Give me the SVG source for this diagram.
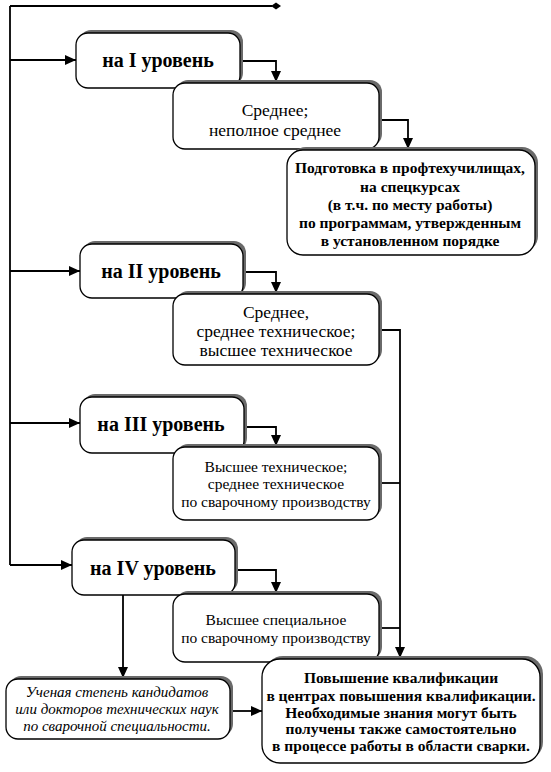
<svg xmlns="http://www.w3.org/2000/svg" width="551" height="772" viewBox="0 0 551 772">
<style>
.sh{fill:#6a6a6a;stroke:none}
.bx{fill:#fff;stroke:#000;stroke-width:1.3}
.ttl{font-size:20px;font-weight:bold}
.big{font-size:17.5px}
.mid{font-size:15.5px}
.bold{font-size:15.5px;font-weight:bold}
.it{font-size:15px;font-style:italic}
.c{fill:none;stroke:#000;stroke-width:1.8}
</style>
<defs>
<marker id="ah" markerUnits="userSpaceOnUse" markerWidth="12" markerHeight="10" refX="11" refY="5" orient="auto">
<path d="M0,0 L11,5 L0,10 Z" fill="#000"/>
</marker>
</defs>
<rect width="551" height="772" fill="#fff"/>
<g id="connectors">
<path class="c" d="M10,6 H272"/>
<polygon points="271,6 276,2.5 281,6 276,9.5" fill="#000"/>
<path class="c" d="M10,6 V565"/>
<path class="c" d="M10,60 H76" marker-end="url(#ah)"/>
<path class="c" d="M10,271 H80" marker-end="url(#ah)"/>
<path class="c" d="M10,423 H80" marker-end="url(#ah)"/>
<path class="c" d="M10,565 H72" marker-end="url(#ah)"/>
<path class="c" d="M243,61 H276 V82" marker-end="url(#ah)"/>
<path class="c" d="M246,272 H276 V293" marker-end="url(#ah)"/>
<path class="c" d="M247,427 H276 V446" marker-end="url(#ah)"/>
<path class="c" d="M238,570 H276 V593" marker-end="url(#ah)"/>
<path class="c" d="M382,120 H408 V149" marker-end="url(#ah)"/>
<path class="c" d="M382,330 H400 V658" marker-end="url(#ah)"/>
<path class="c" d="M382,483 H400"/>
<path class="c" d="M382,628 H400"/>
<path class="c" d="M123,595 V678" marker-end="url(#ah)"/>
<path class="c" d="M233,711 H262" marker-end="url(#ah)"/>
</g>
<g font-family="Liberation Serif, DejaVu Serif, serif" text-anchor="middle" fill="#000">
<g id="level1">
<rect class="sh" x="79" y="30" width="164" height="55" rx="12"/>
<rect class="bx" x="76" y="33" width="164" height="55" rx="12"/>
<text class="ttl" x="158" y="67">на I уровень</text>
</g>
<g id="edu1">
<rect class="sh" x="176" y="80" width="206" height="66" rx="12"/>
<rect class="bx" x="173" y="83" width="206" height="66" rx="12"/>
<text class="big" x="275" y="116">Среднее;</text>
<text class="big" x="275" y="136">неполное среднее</text>
</g>
<g id="training">
<rect class="sh" x="290" y="147" width="248" height="105" rx="16"/>
<rect class="bx" x="287" y="150" width="248" height="105" rx="16"/>
<text class="bold" x="410" y="173">Подготовка в профтехучилищах,</text>
<text class="bold" x="410" y="192">на спецкурсах</text>
<text class="bold" x="410" y="210">(в т.ч. по месту работы)</text>
<text class="bold" x="410" y="228">по программам, утвержденным</text>
<text class="bold" x="410" y="246">в установленном порядке</text>
</g>
<g id="level2">
<rect class="sh" x="83" y="241" width="163" height="54" rx="12"/>
<rect class="bx" x="80" y="244" width="163" height="54" rx="12"/>
<text class="ttl" x="161" y="278">на II уровень</text>
</g>
<g id="edu2">
<rect class="sh" x="176" y="291" width="206" height="71" rx="12"/>
<rect class="bx" x="173" y="294" width="206" height="71" rx="12"/>
<text class="big" x="276" y="318">Среднее,</text>
<text class="big" x="276" y="337">среднее техническое;</text>
<text class="big" x="276" y="356">высшее техническое</text>
</g>
<g id="level3">
<rect class="sh" x="83" y="394" width="164" height="56" rx="12"/>
<rect class="bx" x="80" y="397" width="164" height="56" rx="12"/>
<text class="ttl" x="161" y="431">на III уровень</text>
</g>
<g id="edu3">
<rect class="sh" x="176" y="444" width="206" height="73" rx="12"/>
<rect class="bx" x="173" y="447" width="206" height="73" rx="12"/>
<text class="mid" x="276" y="472">Высшее техническое;</text>
<text class="mid" x="276" y="489">среднее техническое</text>
<text class="mid" x="276" y="507">по сварочному производству</text>
</g>
<g id="level4">
<rect class="sh" x="75" y="537" width="163" height="55" rx="12"/>
<rect class="bx" x="72" y="540" width="163" height="55" rx="12"/>
<text class="ttl" x="153" y="575">на IV уровень</text>
</g>
<g id="edu4">
<rect class="sh" x="176" y="591" width="206" height="68" rx="12"/>
<rect class="bx" x="173" y="594" width="206" height="68" rx="12"/>
<text class="mid" x="276" y="625">Высшее специальное</text>
<text class="mid" x="276" y="643">по сварочному производству</text>
</g>
<g id="degree">
<rect class="sh" x="9" y="676" width="224" height="60" rx="12"/>
<rect class="bx" x="6" y="679" width="224" height="60" rx="12"/>
<text class="it" x="117" y="697">Ученая степень кандидатов</text>
<text class="it" x="117" y="714">или докторов технических наук</text>
<text class="it" x="117" y="731">по сварочной специальности.</text>
</g>
<g id="advanced">
<rect class="sh" x="265" y="656" width="278" height="104" rx="18"/>
<rect class="bx" x="262" y="659" width="278" height="104" rx="18"/>
<text class="bold" x="401" y="683">Повышение квалификации</text>
<text class="bold" x="401" y="701">в центрах повышения квалификации.</text>
<text class="bold" x="401" y="718">Необходимые знания могут быть</text>
<text class="bold" x="401" y="734">получены также самостоятельно</text>
<text class="bold" x="401" y="751">в процессе работы в области сварки.</text>
</g>
</g>
</svg>
